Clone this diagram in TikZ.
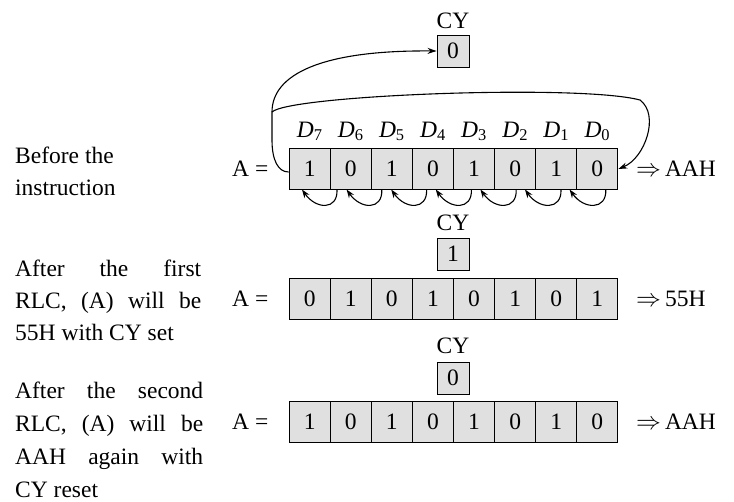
\documentclass[tikz,border=0pt]{standalone}
\usepackage{fontspec}
\setmainfont{Liberation Serif}
\usetikzlibrary{arrows.meta,calc}
\definecolor{cellgray}{RGB}{224,224,224}
\begin{document}
\begin{tikzpicture}[x=1pt,y=-1pt,
  font=\fontsize{23.5}{32}\selectfont,
  bit/.style={draw, fill=cellgray, line width=0.9pt, minimum width=41.1pt, minimum height=41pt, inner sep=0pt},
  cybox/.style={draw, fill=cellgray, line width=0.9pt, minimum width=32pt, minimum height=32pt, inner sep=0pt},
  lbl/.style={inner sep=0pt},
  flow/.style={line width=1.1pt, -{Stealth[length=9pt,width=6pt]}},
  smallflow/.style={line width=1.1pt, -{Stealth[length=8.5pt,width=6pt]}},
]
\useasboundingbox (0,0) rectangle (734,501);

% ---- left descriptions ----
\node[lbl, anchor=base west] (t1a) at (15,163) {Before the};
\node[lbl, anchor=base west] (t1b) at (15,195) {instruction};
\node[lbl, anchor=base west] (t2a) at (15,276) {\makebox[186pt][s]{After the first}};
\node[lbl, anchor=base west] (t2b) at (15,308) {\makebox[186pt][s]{RLC, (A) will be}};
\node[lbl, anchor=base west] (t2c) at (15,340) {55H with CY set};
\node[lbl, anchor=base west] (t3a) at (15,398) {\makebox[188pt][s]{After the second}};
\node[lbl, anchor=base west] (t3b) at (15,431) {\makebox[188pt][s]{RLC, (A) will be}};
\node[lbl, anchor=base west] (t3c) at (15,464) {\makebox[188pt][s]{AAH again with}};
\node[lbl, anchor=base west] (t3d) at (15,497) {CY reset};

% ---- row 1 ----
\node[lbl, anchor=base] (cyl1) at (453,28) {CY};
\node[cybox] (cy1) at (453,51) {0};
\foreach \k [count=\i from 0] in {7,6,5,4,3,2,1,0}
  \node[lbl, anchor=base] (d\k) at (309.65+41.1*\i,137) {\textit{D}\textsubscript{\k}};
\foreach \b [count=\i from 0] in {1,0,1,0,1,0,1,0}
  \node[bit] (a\i) at (309.65+41.1*\i,169) {\b};
\node[lbl, anchor=west] (eqa) at (232,169) {A =};
\node[lbl, anchor=west] (ra) at (636,169) {$\Rightarrow$\,AAH};

% ---- row 2 ----
\node[lbl, anchor=base] (cyl2) at (453,230) {CY};
\node[cybox] (cy2) at (453,254) {1};
\foreach \b [count=\i from 0] in {0,1,0,1,0,1,0,1}
  \node[bit] (b\i) at (309.65+41.1*\i,299) {\b};
\node[lbl, anchor=west] (eqb) at (232,299) {A =};
\node[lbl, anchor=west] (rb) at (636,299) {$\Rightarrow$\,55H};

% ---- row 3 ----
\node[lbl, anchor=base] (cyl3) at (453,353) {CY};
\node[cybox] (cy3) at (453,378) {0};
\foreach \b [count=\i from 0] in {1,0,1,0,1,0,1,0}
  \node[bit] (c\i) at (309.65+41.1*\i,422) {\b};
\node[lbl, anchor=west] (eqc) at (232,422) {A =};
\node[lbl, anchor=west] (rc) at (636,422) {$\Rightarrow$\,AAH};

% ---- rotate connectors ----
\coordinate (split) at (272,112);
\draw[line width=1.1pt] ($(a0.west)+(0,3)$) .. controls (278,172) and (272,160) .. (272,140) -- (split);
\draw[flow] (split) .. controls (272,75) and (320,50) .. (cy1.west);
\draw[flow] (split) .. controls (290,95) and (580,84) .. (640,100)
  .. controls (660,115) and (645,158) .. (a7.east);

\foreach \i in {0,...,6}{
  \coordinate (tl\i) at (337+44.8*\i,189.5);
  \coordinate (hd\i) at (302+44.6*\i,189.5);
  \draw[smallflow] (tl\i) .. controls +(1,21) and +(14,20) .. (hd\i);
}
\end{tikzpicture}
\end{document}
